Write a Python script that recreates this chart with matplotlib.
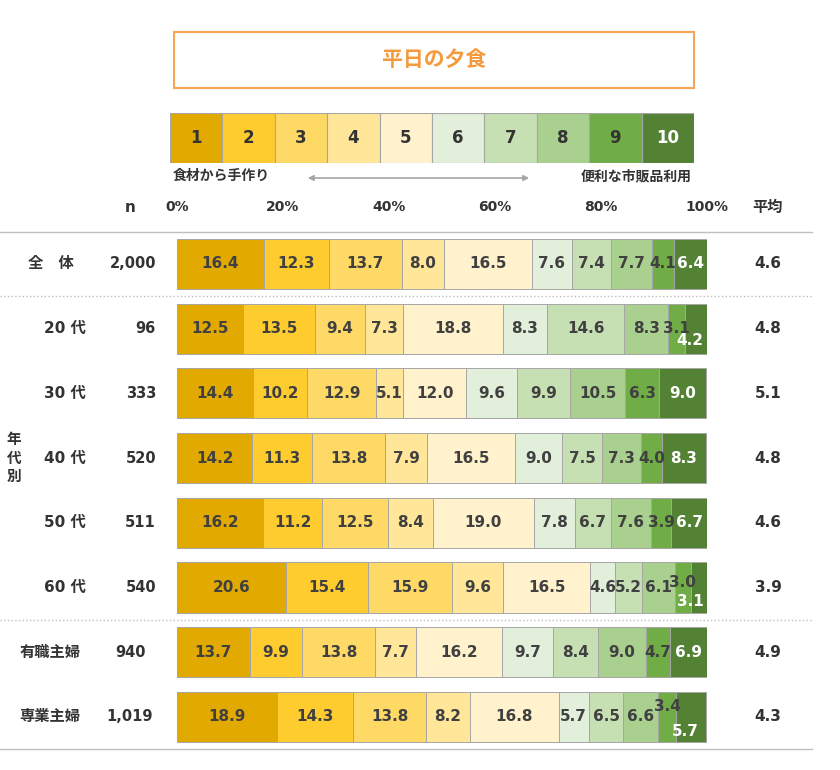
import numpy as np
import matplotlib
matplotlib.use("Agg")
import matplotlib.pyplot as plt
from matplotlib import transforms
from matplotlib.patches import Rectangle

# ---------------- data ----------------
title = "平日の夕食"
scale_labels = [str(i) for i in range(1, 11)]
left_note = "食材から手作り"
right_note = "便利な市販品利用"
tick_values = [0, 20, 40, 60, 80, 100]

row_labels = ["全　体", "20 代", "30 代", "40 代", "50 代", "60 代", "有職主婦", "専業主婦"]
n_values = ["2,000", "96", "333", "520", "511", "540", "940", "1,019"]
averages = ["4.6", "4.8", "5.1", "4.8", "4.6", "3.9", "4.9", "4.3"]

shares = np.array([
    [16.4, 12.3, 13.7, 8.0, 16.5, 7.6, 7.4, 7.7, 4.1, 6.4],
    [12.5, 13.5, 9.4, 7.3, 18.8, 8.3, 14.6, 8.3, 3.1, 4.2],
    [14.4, 10.2, 12.9, 5.1, 12.0, 9.6, 9.9, 10.5, 6.3, 9.0],
    [14.2, 11.3, 13.8, 7.9, 16.5, 9.0, 7.5, 7.3, 4.0, 8.3],
    [16.2, 11.2, 12.5, 8.4, 19.0, 7.8, 6.7, 7.6, 3.9, 6.7],
    [20.6, 15.4, 15.9, 9.6, 16.5, 4.6, 5.2, 6.1, 3.0, 3.1],
    [13.7, 9.9, 13.8, 7.7, 16.2, 9.7, 8.4, 9.0, 4.7, 6.9],
    [18.9, 14.3, 13.8, 8.2, 16.8, 5.7, 6.5, 6.6, 3.4, 5.7],
])

# ---------------- style ----------------
colors = ["#E2AA00", "#FFCC2F", "#FFD966", "#FFE699", "#FFF2CC",
          "#E2EFDA", "#C6E0B4", "#A9D08E", "#70AD47", "#548235"]
text_colors = ["#404040"] * 9 + ["white"]
edge = "#A6A6A6"
dark = "#333333"
FAM = ["DejaVu Sans", "Noto Sans CJK JP"]
plt.rcParams["font.family"] = FAM

# label offsets (px) for crowded small segments: (row, seg) -> (dx, dy)
label_offsets = {(1, 9): (-6, 12), (5, 8): (0, -5), (5, 9): (-8, 14),
                 (7, 8): (0, -10), (7, 9): (-6, 15)}

W, H = 840, 770
fig = plt.figure(figsize=(W / 100, H / 100), dpi=100)

ov = fig.add_axes([0, 0, 1, 1])
ov.set_xlim(0, W)
ov.set_ylim(H, 0)
ov.axis("off")

# bar axes geometry (pixels)
x0, x1 = 177, 707
row_h = 64.71
top = 231.6
nrows = len(row_labels)
bottom = top + nrows * row_h
ax = fig.add_axes([x0 / W, (H - bottom) / H, (x1 - x0) / W, (bottom - top) / H])
ax.set_xlim(0, 100)
ax.set_ylim(nrows - 0.5, -0.5)
ax.axis("off")
px_per_pct = (x1 - x0) / 100.0

# title box
ov.add_patch(Rectangle((174, 32), 520, 56, fill=False, edgecolor="#F5A55A", lw=1.5))
ov.text(434, 60, title, ha="center", va="center", fontsize=15, fontweight="bold",
        color="#F59A3C")

# legend scale
lg = fig.add_axes([170 / W, (H - 163) / H, 524 / W, 50 / H])
lg.set_xlim(0, 10)
lg.set_ylim(0, 1)
lg.axis("off")
lg.bar(np.arange(10) + 0.5, 1, width=1, color=colors, edgecolor=edge, linewidth=0.8)
for i, lab in enumerate(scale_labels):
    lg.text(i + 0.5, 0.5, lab, ha="center", va="center", fontsize=12,
            fontweight="bold", color=text_colors[i] if i == 9 else dark)

ov.text(173, 176, left_note, ha="left", va="center", fontsize=10, fontweight="bold", color=dark)
ov.text(692, 176, right_note, ha="right", va="center", fontsize=10, fontweight="bold", color=dark)
ov.annotate("", xy=(532, 178), xytext=(305, 178),
            arrowprops=dict(arrowstyle="<|-|>", color="#A6A6A6", lw=1.2, mutation_scale=8))

# header row
tr_x_data = transforms.blended_transform_factory(ax.transData, ov.transData)
for t in tick_values:
    ax.text(t, 207, f"{t}%", transform=tr_x_data, ha="center", va="center",
            fontsize=10, fontweight="bold", color=dark)
ov.text(130, 207, "n", ha="center", va="center", fontsize=11, fontweight="bold", color=dark)
ov.text(768, 207, "平均", ha="center", va="center", fontsize=11, fontweight="bold", color=dark)

# bars
y = np.arange(nrows)
cum = np.zeros(nrows)
for j in range(10):
    ax.barh(y, shares[:, j], left=cum, height=0.773, color=colors[j],
            edgecolor=edge, linewidth=0.7)
    for i in range(nrows):
        v = shares[i, j]
        dx, dy = label_offsets.get((i, j), (0, 0))
        ax.text(cum[i] + v / 2 + dx / px_per_pct, y[i] + dy / row_h, f"{v:.1f}",
                ha="center", va="center", fontsize=11, fontweight="bold",
                color=text_colors[j], clip_on=False)
    cum += shares[:, j]

# row labels, n and averages
tr_y_data = transforms.blended_transform_factory(ov.transData, ax.transData)
for i in range(nrows):
    if i == 0:
        ax.text(51, i, row_labels[i], transform=tr_y_data, ha="center", va="center",
                fontsize=11, fontweight="bold", color=dark)
    elif i <= 5:
        ax.text(65, i, row_labels[i], transform=tr_y_data, ha="center", va="center",
                fontsize=11, fontweight="bold", color=dark)
    else:
        ax.text(50, i, row_labels[i], transform=tr_y_data, ha="center", va="center",
                fontsize=11, fontweight="bold", color=dark)
    if i <= 5:
        ax.text(156, i, n_values[i], transform=tr_y_data, ha="right", va="center",
                fontsize=10.5, fontweight="bold", color=dark)
    else:
        ax.text(130, i, n_values[i], transform=tr_y_data, ha="center", va="center",
                fontsize=10.5, fontweight="bold", color=dark)
    ax.text(768, i, averages[i], transform=tr_y_data, ha="center", va="center",
            fontsize=11, fontweight="bold", color=dark)

ax.text(14, 3, "年\n代\n別", transform=tr_y_data, ha="center", va="center",
        fontsize=10.5, fontweight="bold", color=dark, linespacing=1.3)

# separator lines
for yy, ls in [(-0.5, "-"), (0.5, ":"), (5.5, ":"), (nrows - 0.5, "-")]:
    ax.plot([0, 812], [yy, yy], transform=tr_y_data, color="#BFBFBF",
            lw=1.0, ls=ls, clip_on=False)

fig.savefig("out.png", dpi=100)
